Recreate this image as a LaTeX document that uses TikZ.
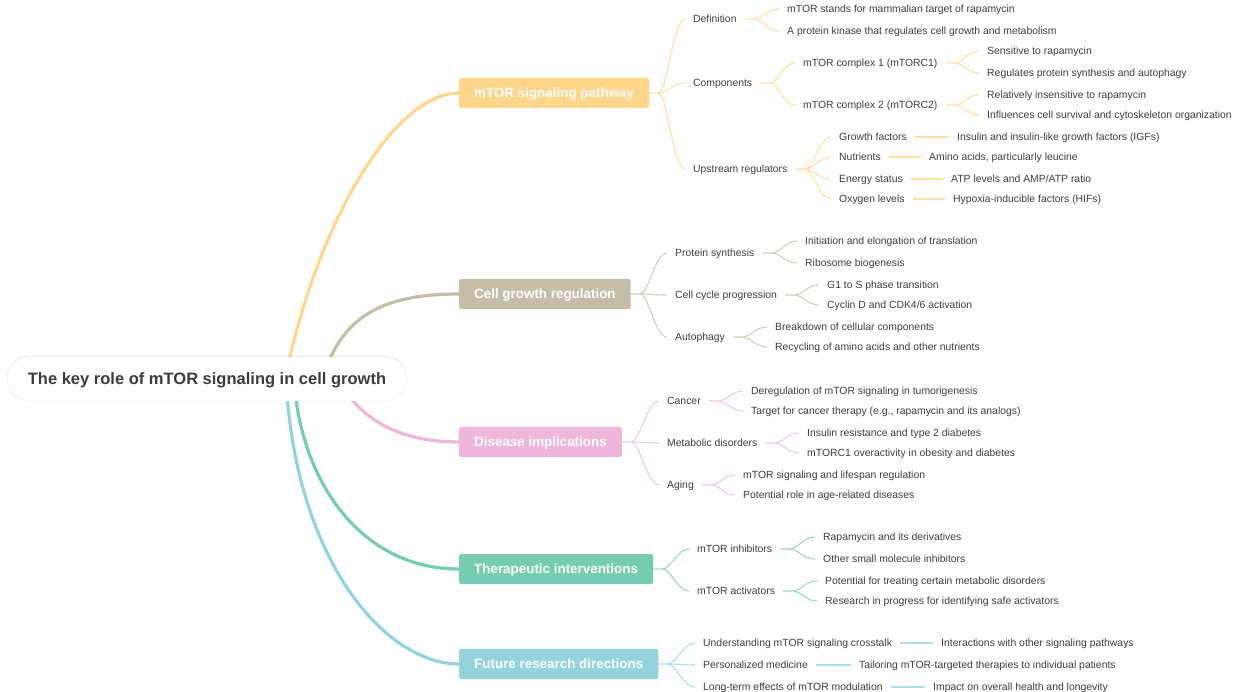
\documentclass[tikz,border=0pt]{standalone}
\usepackage{fontspec}
\setmainfont{Liberation Sans}
\usetikzlibrary{shadows,backgrounds}

\definecolor{pathorange}{HTML}{FFD68A}
\definecolor{growthtan}{HTML}{C5BDA8}
\definecolor{diseasepink}{HTML}{EDB6DA}
\definecolor{therapygreen}{HTML}{76CCB1}
\definecolor{futureblue}{HTML}{93D3DD}
\definecolor{txtgray}{HTML}{3C3C3C}

\tikzset{
    root/.style={fill=white, draw=black!7, rounded corners=22, minimum width=400, minimum height=44,
        text=txtgray, text height=12.3, text depth=0.5, font=\bfseries\fontsize{16.5}{20}\selectfont,
        drop shadow={opacity=0.12, shadow xshift=0, shadow yshift=-1.5}},
    branch/.style={anchor=west, fill=#1, rounded corners=2, text=white, inner xsep=15, inner ysep=0,
        minimum height=30, text height=10, text depth=0.5, font=\bfseries\fontsize{13.4}{16}\selectfont},
    topic/.style={anchor=west, text=txtgray, inner xsep=0, inner ysep=2, text height=8, text depth=0.5,
        font=\fontsize{10.4}{12}\selectfont},
    trunk/.style={line width=3.2, draw=#1},
    twig/.style={line width=1.1, draw=#1!75},
    link/.style={to path={([xshift=#1]\tikztostart.east) -- ++(9,0) .. controls +(9,0) and +(-12,0) .. ([xshift=-8]\tikztotarget.west)}},
    link/.default=8,
}

\begin{document}
\begin{tikzpicture}[x=1pt, y=-1pt]
    \useasboundingbox (0,0) rectangle (1240,692);

    % centre and main branches
    \node[root] (root) at (207,379) {The key role of mTOR signaling in cell growth};
    \node[branch=pathorange] (path) at (459,93) {mTOR signaling pathway};
    \node[branch=growthtan] (growth) at (459,294) {Cell growth regulation};
    \node[branch=diseasepink] (disease) at (459,442) {Disease implications};
    \node[branch=therapygreen] (therapy) at (459,569) {Therapeutic interventions};
    \node[branch=futureblue] (future) at (459,664) {Future research directions};

    \coordinate (rootA) at ([xshift=78]root.center);
    \coordinate (rootB) at ([xshift=115]root.center);
    \coordinate (rootC) at ([xshift=131]root.center);
    \coordinate (rootD) at ([xshift=87]root.center);
    \coordinate (rootE) at ([xshift=79]root.center);

    % mTOR signaling pathway
    \node[topic] (def) at (693,19) {Definition};
    \node[topic] (def1) at (787,9) {mTOR stands for mammalian target of rapamycin};
    \node[topic] (def2) at (787,31) {A protein kinase that regulates cell growth and metabolism};
    \node[topic] (comp) at (693,83) {Components};
    \node[topic] (torcA) at (803,63) {mTOR complex 1 (mTORC1)};
    \node[topic] (torcA1) at (987,51) {Sensitive to rapamycin};
    \node[topic] (torcA2) at (987,73) {Regulates protein synthesis and autophagy};
    \node[topic] (torcB) at (803,105) {mTOR complex 2 (mTORC2)};
    \node[topic] (torcB1) at (987,95) {Relatively insensitive to rapamycin};
    \node[topic] (torcB2) at (987,115) {Influences cell survival and cytoskeleton organization};
    \node[topic] (up) at (693,169) {Upstream regulators};
    \node[topic] (upA) at (839,137) {Growth factors};
    \node[topic] (upA1) at (957,137) {Insulin and insulin-like growth factors (IGFs)};
    \node[topic] (upB) at (839,157) {Nutrients};
    \node[topic] (upB1) at (929,157) {Amino acids, particularly leucine};
    \node[topic] (upC) at (839,179) {Energy status};
    \node[topic] (upC1) at (951,179) {ATP levels and AMP/ATP ratio};
    \node[topic] (upD) at (839,199) {Oxygen levels};
    \node[topic] (upD1) at (953,199) {Hypoxia-inducible factors (HIFs)};

    \draw[twig=pathorange] (path) to[link=0] (def) (path) to[link=0] (comp) (path) to[link=0] (up);
    \draw[twig=pathorange] (def) to[link] (def1) (def) to[link] (def2);
    \draw[twig=pathorange] (comp) to[link] (torcA) (comp) to[link] (torcB);
    \draw[twig=pathorange] (torcA) to[link] (torcA1) (torcA) to[link] (torcA2);
    \draw[twig=pathorange] (torcB) to[link] (torcB1) (torcB) to[link] (torcB2);
    \draw[twig=pathorange] (up) to[link] (upA) (up) to[link] (upB) (up) to[link] (upC) (up) to[link] (upD);
    \draw[twig=pathorange] (upA) to[link] (upA1) (upB) to[link] (upB1) (upC) to[link] (upC1) (upD) to[link] (upD1);

    % Cell growth regulation
    \node[topic] (prot) at (675,253) {Protein synthesis};
    \node[topic] (prot1) at (805,241) {Initiation and elongation of translation};
    \node[topic] (prot2) at (805,263) {Ribosome biogenesis};
    \node[topic] (cycle) at (675,295) {Cell cycle progression};
    \node[topic] (cycle1) at (827,285) {G1 to S phase transition};
    \node[topic] (cycle2) at (827,305) {Cyclin D and CDK4/6 activation};
    \node[topic] (auto) at (675,337) {Autophagy};
    \node[topic] (auto1) at (775,327) {Breakdown of cellular components};
    \node[topic] (auto2) at (775,347) {Recycling of amino acids and other nutrients};

    \draw[twig=growthtan] (growth) to[link=0] (prot) (growth) to[link=0] (cycle) (growth) to[link=0] (auto);
    \draw[twig=growthtan] (prot) to[link] (prot1) (prot) to[link] (prot2);
    \draw[twig=growthtan] (cycle) to[link] (cycle1) (cycle) to[link] (cycle2);
    \draw[twig=growthtan] (auto) to[link] (auto1) (auto) to[link] (auto2);

    % Disease implications
    \node[topic] (cancer) at (667,401) {Cancer};
    \node[topic] (cancer1) at (751,391) {Deregulation of mTOR signaling in tumorigenesis};
    \node[topic] (cancer2) at (751,411) {Target for cancer therapy (e.g., rapamycin and its analogs)};
    \node[topic] (meta) at (667,443) {Metabolic disorders};
    \node[topic] (meta1) at (807,433) {Insulin resistance and type 2 diabetes};
    \node[topic] (meta2) at (807,453) {mTORC1 overactivity in obesity and diabetes};
    \node[topic] (aging) at (667,485) {Aging};
    \node[topic] (aging1) at (743,475) {mTOR signaling and lifespan regulation};
    \node[topic] (aging2) at (743,495) {Potential role in age-related diseases};

    \draw[twig=diseasepink] (disease) to[link=0] (cancer) (disease) to[link=0] (meta) (disease) to[link=0] (aging);
    \draw[twig=diseasepink] (cancer) to[link] (cancer1) (cancer) to[link] (cancer2);
    \draw[twig=diseasepink] (meta) to[link] (meta1) (meta) to[link] (meta2);
    \draw[twig=diseasepink] (aging) to[link] (aging1) (aging) to[link] (aging2);

    % Therapeutic interventions
    \node[topic] (inhib) at (697,549) {mTOR inhibitors};
    \node[topic] (inhib1) at (823,537) {Rapamycin and its derivatives};
    \node[topic] (inhib2) at (823,559) {Other small molecule inhibitors};
    \node[topic] (activ) at (697,591) {mTOR activators};
    \node[topic] (activ1) at (825,581) {Potential for treating certain metabolic disorders};
    \node[topic] (activ2) at (825,601) {Research in progress for identifying safe activators};

    \draw[twig=therapygreen] (therapy) to[link=0] (inhib) (therapy) to[link=0] (activ);
    \draw[twig=therapygreen] (inhib) to[link] (inhib1) (inhib) to[link] (inhib2);
    \draw[twig=therapygreen] (activ) to[link] (activ1) (activ) to[link] (activ2);

    % Future research directions
    \node[topic] (cross) at (703,643) {Understanding mTOR signaling crosstalk};
    \node[topic] (cross1) at (941,643) {Interactions with other signaling pathways};
    \node[topic] (pers) at (703,665) {Personalized medicine};
    \node[topic] (pers1) at (859,665) {Tailoring mTOR-targeted therapies to individual patients};
    \node[topic] (long) at (703,687) {Long-term effects of mTOR modulation};
    \node[topic] (long1) at (933,687) {Impact on overall health and longevity};

    \draw[twig=futureblue] (future) to[link=0] (cross) (future) to[link=0] (pers) (future) to[link=0] (long);
    \draw[twig=futureblue] (cross) to[link] (cross1) (pers) to[link] (pers1) (long) to[link] (long1);

    % trunks, behind the centre node
    \begin{pgfonlayer}{background}
        \draw[trunk=pathorange] (rootA) .. controls +(33,-160) and +(-64,0) .. (path.west);
        \draw[trunk=growthtan] (rootB) .. controls +(18,-54) and +(-89,0) .. (growth.west);
        \draw[trunk=diseasepink] (rootC) .. controls +(22,41) and +(-59,0) .. (disease.west);
        \draw[trunk=therapygreen] (rootD) .. controls +(6,101) and +(-99,0) .. (therapy.west);
        \draw[trunk=futureblue] (rootE) .. controls +(9,181) and +(-74,0) .. (future.west);
    \end{pgfonlayer}
\end{tikzpicture}
\end{document}
